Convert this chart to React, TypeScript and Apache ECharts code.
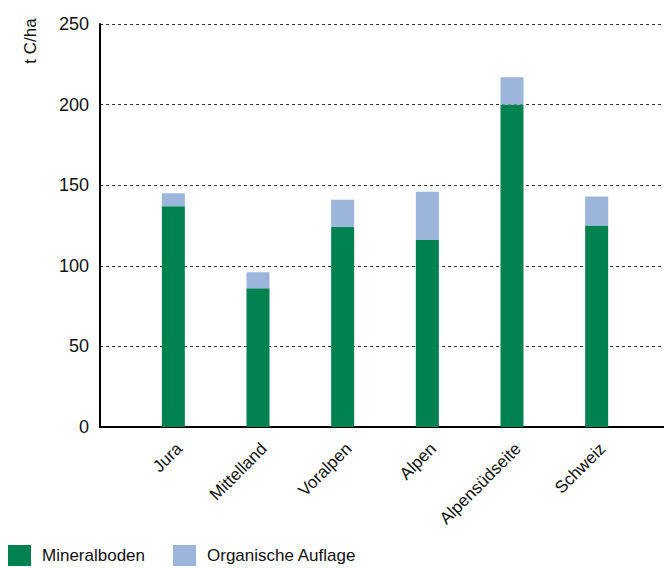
import React, { useEffect, useRef } from "react";
import * as echarts from "echarts";

const categories = ["Jura", "Mittelland", "Voralpen", "Alpen", "Alpensüdseite", "Schweiz"];
const mineralboden = [137, 86, 124, 116, 200, 125];
const organischeAuflage = [8, 10, 17, 30, 17, 18];
const yTicks = [0, 50, 100, 150, 200, 250];

const FONT = "'Liberation Sans', Arial, sans-serif";

export default function App() {
  const ref = useRef<HTMLDivElement>(null);
  useEffect(() => {
    document.body.style.margin = "0";
    const chart = echarts.init(ref.current!, null, { renderer: "svg" });
    chart.setOption({
      animation: false,
      textStyle: { fontFamily: FONT },
      grid: [
        { left: 131, width: 508, top: 24, bottom: 141 },
        { left: 100, right: 0, top: 24, bottom: 141 },
      ],
      xAxis: [
        {
          type: "category",
          gridIndex: 0,
          data: categories,
          axisLine: { show: false },
          axisTick: { show: false },
          axisLabel: {
            rotate: 45,
            fontSize: 17,
            color: "#111",
            margin: 13,
            interval: 0,
            verticalAlign: "top",
            fontFamily: FONT,
          },
        },
        {
          type: "category",
          gridIndex: 1,
          data: [""],
          axisLine: { show: true, lineStyle: { color: "#000", width: 2 } },
          axisTick: { show: false },
          axisLabel: { show: false },
        },
      ],
      yAxis: [
        {
          type: "value",
          gridIndex: 0,
          min: yTicks[0],
          max: yTicks[yTicks.length - 1],
          interval: 50,
          show: false,
        },
        {
          type: "value",
          gridIndex: 1,
          min: yTicks[0],
          max: yTicks[yTicks.length - 1],
          interval: 50,
          axisLine: { show: true, lineStyle: { color: "#000", width: 2 } },
          axisTick: { show: false },
          axisLabel: { fontSize: 18, color: "#111", margin: 11, fontFamily: FONT },
          splitLine: { show: true, lineStyle: { color: "#333", type: [3, 3], width: 1 } },
        },
      ],
      legend: {
        left: 8,
        bottom: 2,
        padding: 0,
        itemWidth: 23,
        itemHeight: 21,
        itemGap: 28,
        icon: "rect",
        textStyle: { fontSize: 17, color: "#111", padding: [0, 0, 0, 6], fontFamily: FONT },
        data: ["Mineralboden", "Organische Auflage"],
      },
      graphic: [
        {
          type: "text",
          x: 30,
          y: 41,
          rotation: Math.PI / 2,
          style: {
            text: "t C/ha",
            fontSize: 17,
            fill: "#111",
            fontFamily: FONT,
            align: "center",
            verticalAlign: "middle",
          },
        },
      ],
      series: [
        {
          name: "Mineralboden",
          type: "bar",
          stack: "total",
          xAxisIndex: 0,
          yAxisIndex: 0,
          barWidth: 23,
          itemStyle: { color: "#008150" },
          data: mineralboden,
        },
        {
          name: "Organische Auflage",
          type: "bar",
          stack: "total",
          xAxisIndex: 0,
          yAxisIndex: 0,
          barWidth: 23,
          itemStyle: { color: "#9bb5db" },
          data: organischeAuflage,
        },
      ],
    });
    return () => chart.dispose();
  }, []);
  return <div ref={ref} style={{ width: 664, height: 568, position: "absolute", left: 0, top: 0 }} />;
}
